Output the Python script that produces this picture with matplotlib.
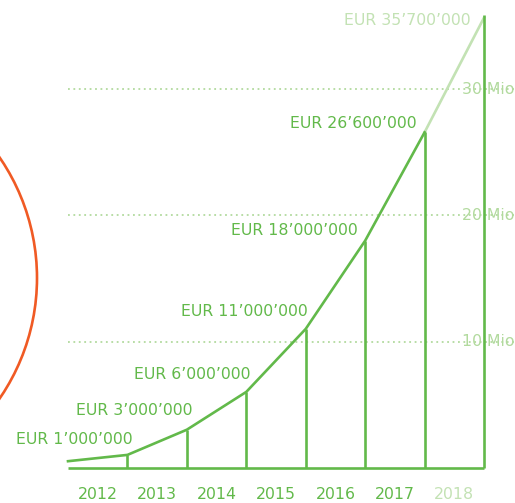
import matplotlib
matplotlib.use("Agg")
import matplotlib.pyplot as plt
from matplotlib.patches import Circle
from matplotlib.transforms import IdentityTransform

# Data (EUR, in millions)
years = ["2012", "2013", "2014", "2015", "2016", "2017", "2018"]
start_value = 0.5
values = [1.0, 3.0, 6.0, 11.0, 18.0, 26.6, 35.7]
value_labels = ["EUR 1’000’000", "EUR 3’000’000", "EUR 6’000’000", "EUR 11’000’000",
                "EUR 18’000’000", "EUR 26’600’000", "EUR 35’700’000"]
grid_values = [10, 20, 30]
grid_labels = ["10 Mio", "20 Mio", "30 Mio"]

# Colors
green = "#62B94A"
light_green = "#C3E2B4"
grid_green = "#B2DA9E"
orange = "#F05A24"

plt.rcParams["font.family"] = ["DejaVu Sans"]
fs = 11.3

W, H = 515, 503
fig = plt.figure(figsize=(W / 100, H / 100), dpi=100)
ax = fig.add_axes([0, 0, 1, 1])
px_x = 59.43
px_y = 12.6
x0, y0 = 68, 467.5
ax.set_xlim(-x0 / px_x, (W - x0) / px_x)
ax.set_ylim((y0 - H) / px_y, y0 / px_y)
ax.axis("off")

n = len(years)
xs = list(range(n + 1))
ys = [start_value] + values

# Dotted grid lines with labels
for g, lab in zip(grid_values, grid_labels):
    ax.plot([0, (W - x0) / px_x], [g, g], color=grid_green, lw=1.3,
            linestyle=(0, (1, 2)), zorder=1)
    ax.text(n - 0.37, g, lab, color=grid_green, fontsize=fs, ha="left", va="center", zorder=1)

# Baseline and year dividers
ax.plot([0, n], [0, 0], color=green, lw=1.9, solid_capstyle="butt", zorder=3)
for i in range(1, n + 1):
    top = values[i - 1] + (0.25 if i == n else 0)
    ax.plot([i, i], [0, top], color=green, lw=1.9, solid_capstyle="butt", zorder=3)

# Growth line: actual values, then forecast
ax.plot(xs[:-1], ys[:-1], color=green, lw=1.9, solid_joinstyle="round", zorder=4)
ax.plot(xs[-2:], ys[-2:], color=light_green, lw=1.9, zorder=2)

# Value labels
offsets = [(5, 15), (6, 19), (4, 17), (2, 17), (-7, 10), (-8, 9), (-13, -3)]
for i, (v, lab) in enumerate(zip(values, value_labels)):
    col = light_green if i == n - 1 else green
    ax.annotate(lab, (i + 1, v), xytext=offsets[i], textcoords="offset pixels",
                ha="right", va="center", color=col, fontsize=fs)

# Year labels
for i, y in enumerate(years):
    col = light_green if i == n - 1 else green
    ax.annotate(y, (i + 0.5, 0), xytext=(0, -27), textcoords="offset pixels",
                ha="center", va="center", color=col, fontsize=fs)

# Orange circle on the left
fig.patches.append(Circle((-176, H - 278), 213, transform=IdentityTransform(),
                          fill=False, edgecolor=orange, lw=1.9))

fig.savefig("out.png", dpi=100)
